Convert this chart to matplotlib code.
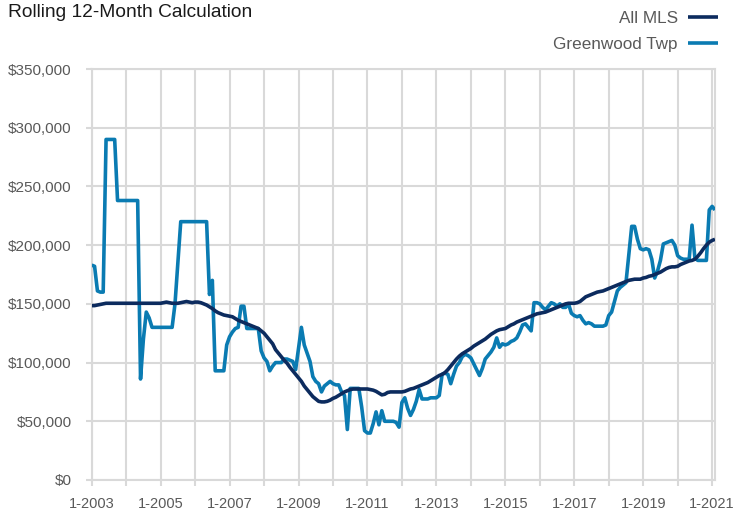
import matplotlib
matplotlib.use("Agg")
import matplotlib.pyplot as plt
import numpy as np
from matplotlib.ticker import FuncFormatter

# ---- data (values in thousands of dollars, monthly from Jan 2003) ----
gw_2003 = [183, 182, 161, 160, 160, 290, 290, 290, 290, 238, 238, 238]
gw_2004 = [238, 238, 238, 238, 238, 86, 120, 143, 138, 130, 130, 130]
gw_2005 = [130, 130, 130, 130, 130, 150, 185, 220, 220, 220, 220, 220]
gw_2006 = [220, 220, 220, 220, 220, 158, 170, 93, 93, 93, 93, 115]
gw_2007 = [122, 126, 129, 130, 148, 148, 129, 129, 129, 129, 129, 110]
gw_2008 = [104, 101, 93, 97, 100, 100, 100, 103, 103, 102, 101, 94]
gw_2009 = [112, 130, 115, 108, 101, 88, 84, 82, 75, 80, 82, 84]
gw_2010 = [82, 81, 81, 75, 72, 43, 78, 78, 78, 78, 62, 42]
gw_2011 = [40, 40, 48, 58, 47, 59, 50, 50, 50, 50, 49, 45]
gw_2012 = [66, 70, 61, 55, 60, 67, 77, 69, 69, 69, 70, 70]
gw_2013 = [70, 72, 90, 91, 90, 82, 90, 97, 100, 105, 107, 106]
gw_2014 = [104, 99, 94, 89, 95, 103, 106, 109, 113, 121, 113, 116]
gw_2015 = [115, 116, 118, 119, 121, 126, 132, 133, 130, 127, 151, 151]
gw_2016 = [150, 147, 145, 148, 151, 150, 148, 150, 147, 147, 150, 142]
gw_2017 = [140, 139, 140, 136, 133, 134, 133, 131, 131, 131, 131, 132]
gw_2018 = [140, 143, 152, 161, 164, 166, 168, 192, 216, 216, 205, 197]
gw_2019 = [196, 197, 196, 188, 172, 178, 187, 201, 202, 203, 204, 200]
gw_2020 = [191, 189, 188, 188, 188, 217, 189, 187, 187, 187, 187, 230]
gw_2021 = [233, 230]

mls_2003 = [148.5, 148.5, 149, 149.5, 150, 150.5, 150.5, 150.5, 150.5, 150.5, 150.5, 150.5]
mls_2004 = [150.5, 150.5, 150.5, 150.5, 150.5, 150.5, 150.5, 150.5, 150.5, 150.5, 150.5, 150.5]
mls_2005 = [150.5, 151, 151.5, 151, 150.5, 150.5, 150.5, 151, 151.5, 152, 151.5, 151]
mls_2006 = [151.5, 151.5, 151, 150, 149, 147.5, 146, 144, 142.5, 141.5, 140.5, 140]
mls_2007 = [139.5, 139, 137.5, 136, 135, 134, 133, 132, 131, 130, 129, 127]
mls_2008 = [125, 122, 119, 116, 111, 108, 105, 102, 99.5, 96, 93, 90]
mls_2009 = [87, 84, 80, 77, 74, 71, 69, 67, 66.5, 66.5, 67, 68]
mls_2010 = [69.5, 70.5, 72, 73.5, 75, 76, 77, 77.5, 77.5, 77.5, 77.5, 77.5]
mls_2011 = [77.5, 77, 76.5, 75.5, 74, 72.5, 73, 74.5, 75, 75, 75, 75]
mls_2012 = [75, 75.5, 76.5, 77.5, 78, 79, 80, 81, 82, 83, 84.5, 86]
mls_2013 = [87.5, 89, 90, 91.5, 94, 97, 100, 103, 105.5, 107.5, 109, 110.5]
mls_2014 = [112, 114, 115.5, 117, 118.5, 120, 122, 124, 125.5, 127, 128, 128.5]
mls_2015 = [129, 130.5, 132, 133, 134.5, 135.5, 136.5, 137.5, 138.5, 139.5, 140.5, 141.5]
mls_2016 = [142, 142.5, 143, 144, 145, 146, 147, 148, 149, 150, 150.5, 150.5]
mls_2017 = [150.5, 151, 152, 154, 156, 157, 158, 159, 160, 160.5, 161, 162]
mls_2018 = [163, 164, 165, 166, 167, 168, 169, 170, 170.5, 171, 171, 171]
mls_2019 = [172, 172.5, 173.5, 174, 175, 176, 177, 178.5, 180, 181, 181.5, 181.5]
mls_2020 = [182, 183.5, 184.5, 185.5, 186.5, 187, 188, 190.5, 193.5, 197, 200, 202.5]
mls_2021 = [204, 205]

series_names = ["All MLS", "Greenwood Twp"]
x_labels = ["1-2003", "1-2005", "1-2007", "1-2009", "1-2011",
            "1-2013", "1-2015", "1-2017", "1-2019", "1-2021"]
y_ticks = [0, 50000, 100000, 150000, 200000, 250000, 300000, 350000]

greenwood = np.array(gw_2003 + gw_2004 + gw_2005 + gw_2006 + gw_2007 + gw_2008 +
                     gw_2009 + gw_2010 + gw_2011 + gw_2012 + gw_2013 + gw_2014 +
                     gw_2015 + gw_2016 + gw_2017 + gw_2018 + gw_2019 + gw_2020 +
                     gw_2021, dtype=float) * 1000
all_mls = np.array(mls_2003 + mls_2004 + mls_2005 + mls_2006 + mls_2007 + mls_2008 +
                   mls_2009 + mls_2010 + mls_2011 + mls_2012 + mls_2013 + mls_2014 +
                   mls_2015 + mls_2016 + mls_2017 + mls_2018 + mls_2019 + mls_2020 +
                   mls_2021, dtype=float) * 1000
months = np.arange(len(greenwood))

plt.rcParams["font.family"] = ["Liberation Sans", "DejaVu Sans"]

W, H = 738, 515
fig = plt.figure(figsize=(W / 100, H / 100), dpi=100)
ax = fig.add_axes([91.7 / W, 1 - 480 / H, (715 - 91.7) / W, (480 - 69) / H])

grid_c = "#d9d9d9"
navy = "#0c2b5e"
blue = "#0a7bb2"

l_gw, = ax.plot(months, greenwood, color=blue, lw=2.6, solid_joinstyle="round",
                solid_capstyle="butt", zorder=3, label=series_names[1])
l_all, = ax.plot(months, all_mls, color=navy, lw=2.6, solid_joinstyle="round",
                 solid_capstyle="butt", zorder=4, label=series_names[0])

ax.set_xlim(0, len(greenwood) - 1)
ax.set_ylim(0, 350000)

year_ticks = np.arange(0, len(greenwood), 12)
ax.set_xticks(year_ticks)
lab_iter = iter(x_labels)
ax.set_xticklabels([next(lab_iter) if i % 2 == 0 else "" for i in range(len(year_ticks))])
ax.set_yticks(y_ticks)
ax.yaxis.set_major_formatter(FuncFormatter(lambda v, p: "${:,.0f}".format(v)))

ax.grid(True, color=grid_c, lw=1.5)
ax.set_axisbelow(True)
for s in ax.spines.values():
    s.set_color(grid_c)
    s.set_linewidth(1.5)
ax.tick_params(axis="both", length=4.5, width=1.5, color=grid_c,
               labelcolor="#595959", labelsize=11)
ax.tick_params(axis="x", labelsize=10.5, pad=8)
ax.tick_params(axis="y", pad=10)

ax.legend(handles=[l_all, l_gw], loc="upper right",
          bbox_to_anchor=(718 / W, 1 - 11 / H), bbox_transform=fig.transFigure,
          frameon=False, markerfirst=False, fontsize=12.3, labelcolor="#595959",
          handlelength=1.75, handletextpad=0.6, labelspacing=0.62,
          borderaxespad=0, borderpad=0)

fig.text(8 / W, 1 - 4 / H, "Rolling 12-Month Calculation", ha="left", va="top",
         fontsize=13.8, color="#1a1a1a")

fig.savefig("out.png", dpi=100)
